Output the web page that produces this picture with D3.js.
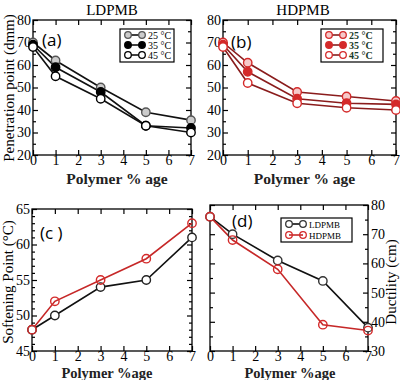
<!DOCTYPE html>
<html><head><meta charset="utf-8">
<script src="https://cdn.jsdelivr.net/npm/d3@7"></script>
<style>body{margin:0;background:#fff;}svg{display:block;} text{font-family:'Liberation Serif',serif;}</style>
</head><body><svg id="c" width="400" height="380"></svg>
<script>
const polymer = [0, 1, 3, 5, 7];
const ldpmbPen25 = [70, 62, 50, 39, 35.5];
const ldpmbPen35 = [69, 59, 48, 33, 32];
const ldpmbPen45 = [68, 55, 45, 33, 30];
const hdpmbPen25 = [70, 61, 48, 46, 44];
const hdpmbPen35 = [69, 57, 45, 43, 42.5];
const hdpmbPen45 = [68, 52, 43, 41, 40];
const softLD = [48, 50, 54, 55, 61];
const softHD = [48, 52, 55, 58, 63];
const ductLD = [76, 70, 61, 54, 38];
const ductHD = [76, 68, 58, 39, 37];
const xTicks = [0,1,2,3,4,5,6,7];
const penTicks = [20,30,40,50,60,70,80];
const softTicks = [45,50,55,60,65];
const ductTicks = [30,40,50,60,70,80];
const tempLabels = ["25 °C", "35 °C", "45 °C"];
const blendLabels = ["LDPMB", "HDPMB"];

const svg = d3.select("#c");
const SERIF = "'Liberation Serif', serif";
const SANS = "'Open Sans', sans-serif";

function panel(o){
  const g = svg.append("g");
  const x = d3.scaleLinear().domain([0,7]).range([o.l, o.r]);
  const y = d3.scaleLinear().domain(o.yd).range([o.b, o.t]);
  g.append("rect").attr("x", o.l).attr("y", o.t).attr("width", o.r-o.l).attr("height", o.b-o.t)
    .attr("fill","none").attr("stroke","#000").attr("stroke-width",1.3);
  const tk = (sel)=>sel.call(s=>s.select(".domain").remove()).attr("font-family",SERIF).selectAll("text").attr("font-family",SERIF).attr("font-size",14).attr("fill","#000");
  g.append("g").attr("transform",`translate(0,${o.b})`)
    .call(d3.axisBottom(x).tickValues(xTicks).tickSize(-5).tickPadding(0).tickFormat(d3.format("d")))
    .call(tk);
  g.append("g").attr("transform",`translate(0,${o.t})`)
    .call(d3.axisTop(x).tickValues(xTicks).tickSize(-5).tickFormat(""))
    .call(tk);
  const minor = d3.range(o.yd[0], o.yd[1]+0.001, o.minor).filter(v=>!o.yt.includes(v));
  const axL = d3.axisLeft(y).tickValues(o.yt).tickSize(-5).tickPadding(2).tickFormat(o.rightLabels? "": d3.format("d"));
  const axR = d3.axisRight(y).tickValues(o.yt).tickSize(-5).tickPadding(3).tickFormat(o.rightLabels? d3.format("d") : "");
  g.append("g").attr("transform",`translate(${o.l},0)`).call(axL).call(tk);
  g.append("g").attr("transform",`translate(${o.r},0)`).call(axR).call(tk);
  g.append("g").attr("transform",`translate(${o.l},0)`).call(d3.axisLeft(y).tickValues(minor).tickSize(-3).tickFormat("")).call(tk);
  g.append("g").attr("transform",`translate(${o.r},0)`).call(d3.axisRight(y).tickValues(minor).tickSize(-3).tickFormat("")).call(tk);
  g.selectAll(".tick line").attr("stroke","#000").attr("stroke-width",1.2);
  const line = d3.line().x((d,i)=>x(polymer[i])).y(d=>y(d));
  o.series.forEach(s=>{
    g.append("path").datum(s.v).attr("d",line).attr("fill","none").attr("stroke",s.line).attr("stroke-width",1.6);
  });
  o.series.forEach(s=>{
    g.selectAll(null).data(s.v).join("circle").attr("cx",(d,i)=>x(polymer[i])).attr("cy",d=>y(d)).attr("r",4.2)
      .attr("fill",s.fill).attr("stroke",s.stroke).attr("stroke-width",1.4);
  });
  g.append("text").attr("x",o.letter[0]).attr("y",o.letter[1]).attr("font-family",SANS).attr("font-size",17).style("font-family",SANS).text(o.letterText);
  g.append("text").attr("x",(o.l+o.r)/2+o.xlabDx).attr("y",o.xlabY).attr("text-anchor","middle").attr("font-family",SERIF).attr("font-size",o.xlabFs).attr("font-weight","bold").attr("fill","#222").text(o.xlab);
  if(o.legend){
    const L = o.legend;
    g.append("rect").attr("x",L.x).attr("y",L.y).attr("width",L.w).attr("height",L.h).attr("fill","#fff").attr("stroke","#000").attr("stroke-width",1.2);
    o.series.forEach((s,i)=>{
      const yy = L.y + L.pad + i*L.dy;
      g.append("line").attr("x1",L.x+8).attr("x2",L.x+22).attr("y1",yy).attr("y2",yy).attr("stroke",s.line).attr("stroke-width",1.6);
      [L.x+8, L.x+22].forEach(cx=>g.append("circle").attr("cx",cx).attr("cy",yy).attr("r",3.3).attr("fill",s.fill).attr("stroke",s.stroke).attr("stroke-width",1.3));
      g.append("text").attr("x",L.x+28).attr("y",yy+4).attr("font-family",SERIF).attr("font-size",L.fs).attr("font-weight",L.bold?"bold":"normal").attr("fill",L.tc||"#000").text(L.labels[i]);
    });
  }
  return {x,y};
}

const redL = "#8a1c1c", red = "#d42a2a";
panel({l:33,r:191,t:20,b:155,yd:[20,80],yt:penTicks,minor:5,
  series:[{v:ldpmbPen25,line:"#111",fill:"#ccc",stroke:"#555"},{v:ldpmbPen35,line:"#111",fill:"#000",stroke:"#000"},{v:ldpmbPen45,line:"#111",fill:"#fff",stroke:"#000"}],
  letter:[42,46],letterText:"(a)",xlab:"Polymer % age",xlabY:184,xlabDx:5,xlabFs:15.5,
  legend:{x:120,y:29,w:54,h:33,pad:6,dy:10,fs:10,labels:tempLabels}});
panel({l:223,r:396,t:20,b:155,yd:[20,80],yt:penTicks,minor:5,
  series:[{v:hdpmbPen25,line:redL,fill:"#f6c9c9",stroke:red},{v:hdpmbPen35,line:redL,fill:red,stroke:red},{v:hdpmbPen45,line:redL,fill:"#fff",stroke:red}],
  letter:[231,48],letterText:"(b)",xlab:"Polymer % age",xlabY:184,xlabDx:-5,xlabFs:15.5,
  legend:{x:321,y:29,w:62,h:33,pad:6,dy:10,fs:10,bold:true,tc:"#1a3a2a",labels:tempLabels}});
panel({l:32,r:192,t:209,b:351,yd:[45,65],yt:softTicks,minor:1,
  series:[{v:softLD,line:"#111",fill:"#fff",stroke:"#222"},{v:softHD,line:"#c62828",fill:"none",stroke:"#d42a2a"}],
  letter:[40,239],letterText:"(c )",xlab:"Polymer %age",xlabY:378,xlabDx:-5,xlabFs:14.5});
panel({l:210,r:368,t:205,b:351,yd:[30,80],yt:ductTicks,minor:5,rightLabels:true,
  series:[{v:ductLD,line:"#111",fill:"#fff",stroke:"#333"},{v:ductHD,line:"#c62828",fill:"none",stroke:"#d42a2a"}],
  letter:[232,227],letterText:"(d)",xlab:"Polymer %age",xlabY:378,xlabDx:1,xlabFs:14.5,
  legend:{x:281,y:218,w:71,h:24,pad:6,dy:11,fs:9,labels:blendLabels}});

svg.append("text").attr("x",112).attr("y",15).attr("text-anchor","middle").attr("font-family",SERIF).attr("font-size",15).text("LDPMB");
svg.append("text").attr("x",303).attr("y",15).attr("text-anchor","middle").attr("font-family",SERIF).attr("font-size",15).text("HDPMB");
svg.append("text").attr("transform","translate(14,88) rotate(-90)").attr("text-anchor","middle").attr("font-family",SERIF).attr("font-size",15).text("Penetration point (dmm)");
svg.append("text").attr("transform","translate(13,282) rotate(-90)").attr("text-anchor","middle").attr("font-family",SERIF).attr("font-size",15).text("Softening Point (°C)");
svg.append("text").attr("transform","translate(396,282) rotate(-90)").attr("text-anchor","middle").attr("font-family",SERIF).attr("font-size",15).text("Ductility (cm)");
</script></body></html>
